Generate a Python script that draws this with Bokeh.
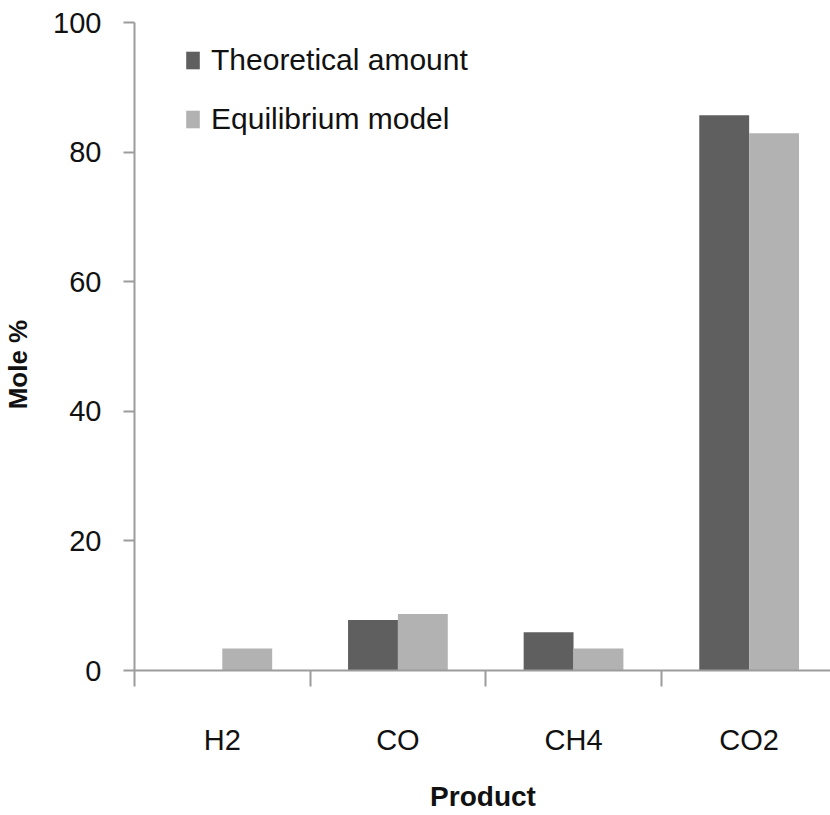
from bokeh.plotting import figure
from bokeh.models import ColumnDataSource, FixedTicker, Range1d, Legend, LegendItem
from bokeh.transform import dodge
from bokeh.embed import file_html
from bokeh.resources import INLINE

# Gas composition of the product stream (mole %)
products = ["H2", "CO", "CH4", "CO2"]
theoretical = [0.0, 7.8, 5.9, 85.7]
equilibrium = [3.4, 8.7, 3.4, 82.9]
y_ticks = [0, 20, 40, 60, 80, 100]

FONT = "Liberation Sans"
INK = "#111111"
AXIS_GREY = "#9c9c9c"

pos = [i + 0.5 for i in range(len(products))]
src = ColumnDataSource(dict(pos=pos, theo=theoretical, equi=equilibrium))

p = figure(frame_width=697, frame_height=648, output_backend="svg",
           toolbar_location=None,
           x_range=Range1d(0, 3.969), y_range=Range1d(0, 100),
           min_border_left=133, min_border_right=0, min_border_top=22,
           min_border_bottom=0)
p.outline_line_color = None
p.grid.grid_line_color = None
p.background_fill_color = "white"
p.border_fill_color = "white"

bw = 0.284
r1 = p.vbar(x=dodge("pos", -bw / 2), top="theo", width=bw, bottom=0, source=src,
            fill_color="#5f5f5f", line_color=None)
r2 = p.vbar(x=dodge("pos", bw / 2), top="equi", width=bw, bottom=0, source=src,
            fill_color="#b2b2b2", line_color=None)

# x axis: labels at category centres, tick marks between categories
xa = p.xaxis[0]
xa.ticker = FixedTicker(ticks=pos, minor_ticks=[0, 1, 2, 3, 4])
xa.major_label_overrides = {pv: name for pv, name in zip(pos, products)}
xa.major_tick_out = 0
xa.major_tick_in = 0
xa.minor_tick_out = 16
xa.minor_tick_in = 0
xa.minor_tick_line_color = AXIS_GREY
xa.minor_tick_line_width = 2
xa.axis_line_color = AXIS_GREY
xa.axis_line_width = 2
xa.major_label_standoff = 37
xa.major_label_text_font = FONT
xa.major_label_text_font_size = "29px"
xa.major_label_text_color = INK
xa.axis_label = "Product"
xa.axis_label_text_font = FONT
xa.axis_label_text_font_style = "bold"
xa.axis_label_text_font_size = "28px"
xa.axis_label_text_color = INK
xa.axis_label_standoff = 22

ya = p.yaxis[0]
ya.ticker = FixedTicker(ticks=y_ticks)
ya.major_tick_out = 11
ya.major_tick_in = 0
ya.minor_tick_line_color = None
ya.major_tick_line_color = AXIS_GREY
ya.major_tick_line_width = 2
ya.axis_line_color = AXIS_GREY
ya.axis_line_width = 2
ya.major_label_standoff = 22
ya.major_label_text_font = FONT
ya.major_label_text_font_size = "29px"
ya.major_label_text_color = INK
# trailing no-break spaces nudge the rotated title towards the bottom
ya.axis_label = "Mole %" + "\u00a0" * 5
ya.axis_label_text_font = FONT
ya.axis_label_text_font_style = "bold"
ya.axis_label_text_font_size = "26px"
ya.axis_label_text_color = INK
ya.axis_label_standoff = 17

legend = Legend(items=[LegendItem(label="Theoretical amount", renderers=[r1]),
                       LegendItem(label="Equilibrium model", renderers=[r2])],
                location=(50, 534), padding=0, margin=0, spacing=25,
                glyph_width=17, glyph_height=22, label_height=22,
                label_standoff=10, label_text_font=FONT,
                label_text_font_size="30px", label_text_color=INK,
                border_line_color=None, background_fill_alpha=0)
p.add_layout(legend)

open("out.html", "w").write(file_html(p, INLINE))
